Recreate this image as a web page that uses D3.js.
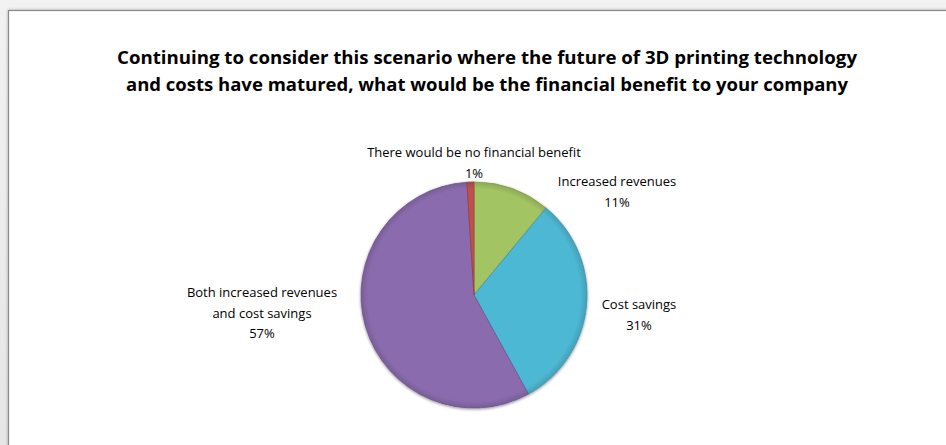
<!DOCTYPE html>
<html>
<head>
<meta charset="utf-8">
<script src="https://cdn.jsdelivr.net/npm/d3@7"></script>
<style>
  html, body { margin: 0; padding: 0; background: #ececec; }
  svg { display: block; }
</style>
</head>
<body>
<svg id="chart" width="946" height="445"></svg>
<script>
// Survey answers, in the order the slices run clockwise from 12 o'clock
const categories = [
  "Increased revenues",
  "Cost savings",
  "Both increased revenues and cost savings",
  "There would be no financial benefit"
];
const shares = [11, 31, 57, 1];
const labelLines = [
  ["Increased revenues"],
  ["Cost savings"],
  ["Both increased revenues", "and cost savings"],
  ["There would be no financial benefit"]
];
const sliceColors = ["#a2c462", "#4eb8d3", "#8a6cae", "#c0504d"];
const titleLines = [
  "Continuing to consider this scenario where the future of 3D printing technology",
  "and costs have matured, what would be the financial benefit to your company"
];

const W = 946, H = 445;
const svg = d3.select("#chart");
const defs = svg.append("defs");

// grey page behind the chart card
const bg = defs.append("linearGradient").attr("id", "pageBg")
  .attr("x1", 0).attr("y1", 0).attr("x2", 0).attr("y2", 1);
bg.append("stop").attr("offset", "0%").attr("stop-color", "#f2f2f2");
bg.append("stop").attr("offset", "100%").attr("stop-color", "#e6e6e6");
svg.append("rect").attr("width", W).attr("height", H).attr("fill", "url(#pageBg)");

// chart card
const shadow = defs.append("filter").attr("id", "cardShadow")
  .attr("x", "-5%").attr("y", "-5%").attr("width", "110%").attr("height", "110%");
shadow.append("feGaussianBlur").attr("in", "SourceAlpha").attr("stdDeviation", 1.5);
shadow.append("feOffset").attr("dx", 0).attr("dy", 0).attr("result", "b");
shadow.append("feComponentTransfer").append("feFuncA").attr("type", "linear").attr("slope", 0.35);
const sm = shadow.append("feMerge");
sm.append("feMergeNode");
sm.append("feMergeNode").attr("in", "SourceGraphic");

svg.append("rect")
  .attr("x", 8.5).attr("y", 10.5)
  .attr("width", W + 20).attr("height", H + 20)
  .attr("fill", "#ffffff")
  .attr("stroke", "#8a8a8a").attr("stroke-width", 1.2)
  .attr("filter", "url(#cardShadow)");

// title
const title = svg.append("text")
  .attr("text-anchor", "middle")
  .attr("font-family", "'Open Sans', 'Liberation Sans', sans-serif")
  .attr("font-weight", "bold")
  .attr("font-size", 17.5)
  .attr("fill", "#000");
titleLines.forEach((t, i) => {
  title.append("tspan")
    .attr("x", 487).attr("y", 64 + i * 27)
    .attr("textLength", i === 0 ? 740 : 722)
    .attr("lengthAdjust", "spacingAndGlyphs")
    .text(t);
});

// pie
const cx = 474, cy = 295, R = 113;
const g = svg.append("g").attr("transform", `translate(${cx},${cy})`);

// bevelled look: each slice shaded darker towards the rim
sliceColors.forEach((c, i) => {
  const rg = defs.append("radialGradient").attr("id", "slice" + i)
    .attr("gradientUnits", "userSpaceOnUse")
    .attr("cx", 0).attr("cy", 0).attr("r", R);
  const base = d3.color(c);
  rg.append("stop").attr("offset", "0%").attr("stop-color", base);
  rg.append("stop").attr("offset", "94%").attr("stop-color", base);
  rg.append("stop").attr("offset", "100%").attr("stop-color", base.darker(0.4));
});

const pieShadow = defs.append("filter").attr("id", "pieShadow")
  .attr("x", "-10%").attr("y", "-10%").attr("width", "120%").attr("height", "120%");
pieShadow.append("feGaussianBlur").attr("in", "SourceAlpha").attr("stdDeviation", 1.6);
pieShadow.append("feOffset").attr("dx", 0).attr("dy", 0.8).attr("result", "ob");
pieShadow.append("feComponentTransfer").append("feFuncA").attr("type", "linear").attr("slope", 0.45);
const pm = pieShadow.append("feMerge");
pm.append("feMergeNode");
pm.append("feMergeNode").attr("in", "SourceGraphic");

const pie = d3.pie().sort(null).value(d => d)(shares);
const arc = d3.arc().innerRadius(0).outerRadius(R);

const slices = g.append("g").attr("filter", "url(#pieShadow)");
slices.selectAll("path")
  .data(pie)
  .join("path")
  .attr("d", arc)
  .attr("fill", (d, i) => `url(#slice${i})`)
  .attr("stroke", (d, i) => d3.color(sliceColors[i]).darker(0.6))
  .attr("stroke-width", 0.8)
  .attr("stroke-linejoin", "round");

// data labels placed outside the pie
const labelPos = [
  { x: 617, y: 186 },
  { x: 639, y: 309 },
  { x: 262, y: 297 },
  { x: 474, y: 157 }
];
const lineGap = 20.5;
const labels = svg.append("g")
  .attr("font-family", "'Open Sans', 'Liberation Sans', sans-serif")
  .attr("font-size", 13)
  .attr("fill", "#000")
  .attr("text-anchor", "middle");
pie.forEach((d, i) => {
  const t = labels.append("text");
  const lines = labelLines[i].concat([d3.format(".0f")(d.value) + "%"]);
  lines.forEach((ln, j) => {
    t.append("tspan")
      .attr("x", labelPos[i].x)
      .attr("y", labelPos[i].y + j * lineGap)
      .text(ln);
  });
});
</script>
</body>
</html>
